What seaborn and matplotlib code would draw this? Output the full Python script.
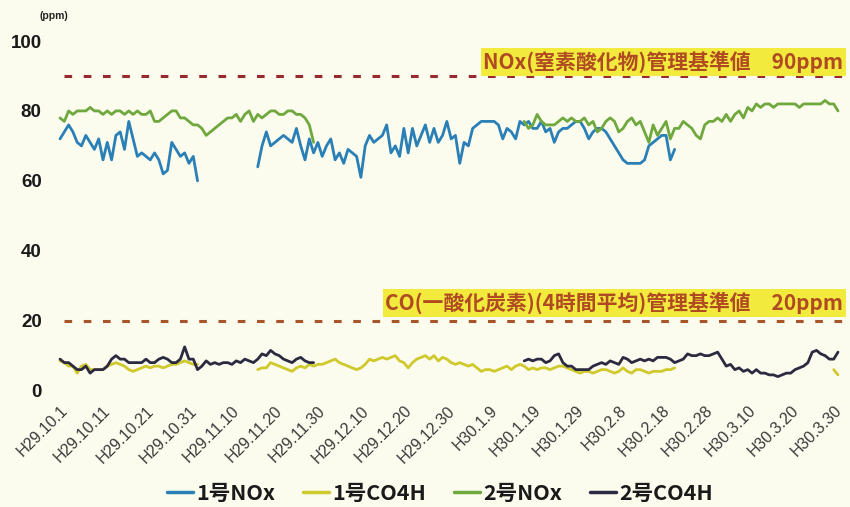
import numpy as np
import pandas as pd
import matplotlib
matplotlib.use("Agg")
import matplotlib.pyplot as plt
import seaborn as sns

# ---- daily values (ppm) -------------------------------------------------
series_names = ["1号NOx", "1号CO4H", "2号NOx", "2号CO4H"]

# Unit 1 NOx
nox1_a_start = "2017-10-01"
nox1_a = [72, 74, 76, 74, 71, 70, 73, 71, 69, 72,
          66, 71, 66, 73, 74, 69, 77, 72, 67, 68,
          67, 66, 68, 66, 62, 63, 71, 69, 67, 68,
          65, 67, 60]
nox1_b_start = "2017-11-16"
nox1_b = [64, 70, 74, 70, 71, 72, 73, 72, 71, 75,
          70, 66, 72, 68, 71, 67, 70, 72, 66, 68,
          65, 69, 68, 67, 61, 70, 73, 71, 72, 73,
          76, 68, 70, 67, 75, 68, 75, 70, 73, 76,
          71, 75, 71, 73, 77, 72, 73, 65, 71, 70,
          75, 76, 77, 77, 77, 77, 76, 72, 75, 74,
          72, 77, 76, 77, 75, 75, 77, 74, 75, 71,
          74, 75, 75, 76, 77, 77, 75, 72, 74, 75,
          75, 74, 72, 70, 68, 66, 65, 65, 65, 65,
          66, 70, 71, 72, 73, 73, 66, 69]

# Unit 1 CO (4-hour average)
co1_a_start = "2017-10-01"
co1_a = [8.5, 8, 7, 7, 5, 7, 7.5, 6, 6, 6,
         6, 7, 7.5, 8, 7.5, 7, 6, 5.5, 6, 6.5,
         7, 6.5, 7, 7, 6.5, 7, 7.5, 7.5, 8, 8.5,
         8, 7.5, 7.5]
co1_b_start = "2017-11-16"
co1_b = [6, 6.5, 6.5, 8, 7.5, 7, 6.5, 6, 5.5, 6.5,
         7, 6.5, 7.5, 7, 7.5, 7.5, 8, 8.5, 9, 8,
         7.5, 7, 6.5, 6, 6.5, 7.5, 9, 8.5, 9, 9.5,
         9, 9.5, 10, 8.5, 8, 6.5, 8, 9, 9.5, 10,
         9, 10, 8.5, 9.5, 9, 8, 7.5, 8, 7.5, 7,
         7.5, 6.5, 5.5, 6, 6, 5.5, 6, 6.5, 7, 6,
         7, 7.5, 7, 6, 6.5, 6, 6.5, 6.5, 6, 6.5,
         7, 7, 6.5, 6, 5.5, 5, 5.5, 5.5, 5, 5.5,
         6, 6, 5.5, 5, 5.5, 6.5, 5.5, 5, 6, 6,
         5.5, 5, 5.5, 5.5, 5.5, 6, 6, 6.5]
co1_c_start = "2018-03-30"
co1_c = [6, 4.5]

# Unit 2 NOx
nox2_a_start = "2017-10-01"
nox2_a = [78, 77, 80, 79, 80, 80, 80, 81, 80, 80,
          79, 80, 79, 80, 80, 79, 80, 79, 80, 79,
          79, 80, 77, 77, 78, 79, 80, 80, 78, 78,
          77, 76, 76, 75, 73, 74, 75, 76, 77, 78,
          78, 79, 77, 79, 80, 77, 79, 78, 79, 80,
          80, 79, 79, 80, 80, 79, 79, 78, 76, 71]
nox2_b_start = "2018-01-17"
nox2_b = [77, 75, 76, 79, 77, 76, 76, 76, 77, 78,
          77, 78, 77, 77, 78, 76, 77, 74, 75, 77,
          78, 77, 74, 75, 77, 78, 76, 77, 74, 71,
          76, 73, 75, 77, 72, 75, 75, 77, 76, 75,
          73, 72, 76, 77, 77, 78, 77, 79, 77, 79,
          80, 78, 81, 80, 82, 81, 82, 82, 81, 82,
          82, 82, 82, 82, 81, 82, 82, 82, 82, 82,
          83, 82, 82, 80]

# Unit 2 CO (4-hour average)
co2_a_start = "2017-10-01"
co2_a = [9, 8, 8, 7, 6, 6, 7, 5, 6, 6,
         6, 7, 9, 10, 9, 9, 8, 8, 8, 8,
         9, 8, 8, 9, 9.5, 9, 8, 8, 9, 12.5,
         9, 9, 6, 7, 8.5, 7.5, 8, 7.5, 8, 8,
         7.5, 8.5, 8, 9, 8.5, 8, 9, 10.5, 10, 11.5,
         10.5, 10, 9, 8.5, 8, 9, 9.5, 8.5, 8, 8]
co2_b_start = "2018-01-17"
co2_b = [8.5, 9, 8.5, 9, 9, 8, 8.5, 10, 10.5, 8,
         7, 7, 6, 6, 6, 6, 7, 7.5, 8, 7.5,
         8.5, 8, 7.5, 9.5, 9, 8, 8.5, 9, 8.5, 9,
         8.5, 9.5, 9.5, 9.5, 9, 8, 8.5, 9, 10.5, 10,
         10, 10.5, 10, 10, 10.5, 11, 9, 7, 7.5, 6,
         6.5, 5.5, 6, 5, 6, 5, 5, 4.5, 4.5, 4,
         4.5, 5, 5, 6, 6.5, 7, 8, 11, 11.5, 10.5,
         10, 9, 9, 11]

# Control limits
NOX_LIMIT = 90
CO_LIMIT = 20
nox_limit_label = f"NOx(窒素酸化物)管理基準値　{NOX_LIMIT}ppm"
co_limit_label = f"CO(一酸化炭素)(4時間平均)管理基準値　{CO_LIMIT}ppm"

period_start = "2017-10-01"
period_end = "2018-03-31"
tick_labels = ["H29.10.1", "H29.10.11", "H29.10.21", "H29.10.31", "H29.11.10",
               "H29.11.20", "H29.11.30", "H29.12.10", "H29.12.20", "H29.12.30",
               "H30.1.9", "H30.1.19", "H30.1.29", "H30.2.8", "H30.2.18",
               "H30.2.28", "H30.3.10", "H30.3.20", "H30.3.30"]
y_ticks = [0, 20, 40, 60, 80, 100]

# ---- long table, one row per day, separate runs kept apart ---------------
segments = {
    "1号NOx": [(nox1_a_start, nox1_a), (nox1_b_start, nox1_b)],
    "1号CO4H": [(co1_a_start, co1_a), (co1_b_start, co1_b), (co1_c_start, co1_c)],
    "2号NOx": [(nox2_a_start, nox2_a), (nox2_b_start, nox2_b)],
    "2号CO4H": [(co2_a_start, co2_a), (co2_b_start, co2_b)],
}
rows = []
for name, segs in segments.items():
    for k, (start, vals) in enumerate(segs):
        dates = pd.date_range(start, periods=len(vals), freq="D")
        for d, v in zip(dates, vals):
            rows.append((d, v, name, f"{name}-{k}"))
df = pd.DataFrame(rows, columns=["date", "ppm", "series", "segment"])

# ---- style -----------------------------------------------------------------
BG = "#fbfbee"
palette = {"1号NOx": "#2a80b6", "1号CO4H": "#cfc92c",
           "2号NOx": "#6fa83c", "2号CO4H": "#2c2a40"}

sns.set_style("white")
plt.rcParams["font.family"] = ["Noto Sans CJK JP", "DejaVu Sans"]

fig = plt.figure(figsize=(8.5, 5.07), dpi=100, facecolor=BG)
ax = fig.add_axes([50 / 850, 1 - 390.6 / 507, 795 / 850, (390.6 - 41) / 507])
ax.set_facecolor(BG)

sns.lineplot(data=df, x="date", y="ppm", hue="series", hue_order=series_names,
             units="segment", estimator=None, palette=palette,
             linewidth=2.0, ax=ax)

t0 = pd.Timestamp(period_start)
t1 = pd.Timestamp(period_end)
ax.set_xlim(t0 - pd.Timedelta(days=2.33), t1 + pd.Timedelta(days=1.63))
ax.set_ylim(0, 100)

# control limit lines
ax.hlines(NOX_LIMIT, t0 + pd.Timedelta(days=1), t1 + pd.Timedelta(days=1.5),
          colors="#962a2c", linewidth=2.2, linestyles=(0, (2.5, 3.8)), zorder=1)
ax.hlines(CO_LIMIT, t0 + pd.Timedelta(days=1), t1 + pd.Timedelta(days=1.5),
          colors="#a8552a", linewidth=2.2, linestyles=(0, (2.5, 3.8)), zorder=1)

trans = matplotlib.transforms.blended_transform_factory(ax.transAxes, ax.transData)
box = dict(boxstyle="square,pad=0.12", facecolor="#f2ea3c", edgecolor="none")
ax.text(0.9975, 94.0, nox_limit_label, transform=trans, ha="right", va="center",
        fontsize=15, fontweight="bold", color="#b04a22", bbox=box, zorder=3)
ax.text(0.9975, 25.0, co_limit_label, transform=trans, ha="right", va="center",
        fontsize=15, fontweight="bold", color="#b04a22", bbox=box, zorder=3)

# axes and ticks
tick_dates = pd.date_range(period_start, periods=len(tick_labels), freq="10D")
ax.set_xticks(tick_dates)
ax.set_xticklabels(tick_labels, rotation=45, ha="right", va="top",
                   rotation_mode="anchor", fontsize=11.5, color="#3a3a3a",
                   family="Liberation Sans")
ax.set_yticks(y_ticks)
ax.set_yticklabels([str(v) for v in y_ticks], fontsize=13.5, fontweight="bold",
                   color="#1a1a1a", family="Liberation Sans")
ax.tick_params(axis="both", length=0)
ax.tick_params(axis="y", pad=6)
ax.tick_params(axis="x", pad=9)
ax.set_xlabel("")
ax.set_ylabel("")
sns.despine(ax=ax, left=True, bottom=True)

fig.text(40 / 850, 1 - 16 / 507, "(ppm)", fontsize=7.5, fontweight="bold",
         color="#222222", va="center", ha="left", family="Liberation Sans")

# legend along the bottom
handles, labels = ax.get_legend_handles_labels()
if ax.get_legend() is not None:
    ax.get_legend().remove()
leg = fig.legend(handles, labels, loc="center", bbox_to_anchor=(440 / 850, 1 - 493 / 507),
                 ncol=4, frameon=False, handlelength=1.2, handletextpad=0.15,
                 columnspacing=1.3, prop={"size": 15.5, "weight": "bold"})
for line in leg.get_lines():
    line.set_linewidth(2.5)
for txt in leg.get_texts():
    txt.set_color("#1a1a1a")

fig.savefig("out.png", dpi=100, facecolor=BG)
